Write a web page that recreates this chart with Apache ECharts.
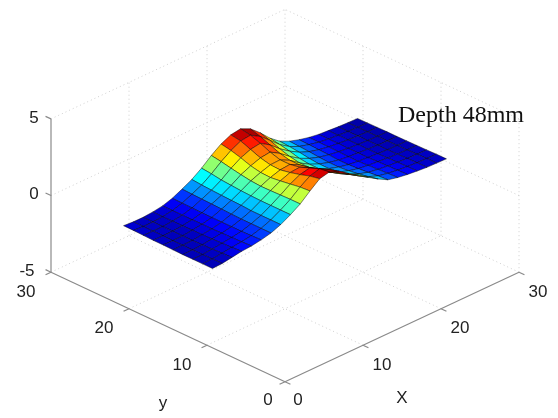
<!DOCTYPE html>
<html><head><meta charset="utf-8">
<script src="https://cdn.jsdelivr.net/npm/echarts@6/dist/echarts.min.js"></script>
<style>html,body{margin:0;background:#fff}#c{width:558px;height:418px}</style>
</head><body><div id="c"></div>
<script>
const xTicks=[0,10,20,30], yTicks=[0,10,20,30], zTicks=[-5,0,5];
const xGrid=[0,1.25,2.5,3.75,5,6.25,7.5,8.75,10,11.25,12.5,13.75,15,16.25,17.5,18.75,20,21.25,22.5,23.75,25,26.25,27.5,28.75,30];
const yGrid=[9.3,10.57,11.83,13.1,14.37,15.63,16.9,18.17,19.43,20.7];
const z0=[.17,.2,.3,.4,.45,.55,.7,.95,1.3,1.7,2.25,2.75,2.9,2.65,2.2,1.8,1.35,.95,.6,.45,.35,.28,.22,.2,.18];
const z1=[.17,.2,.27,.35,.42,.52,.7,.95,1.3,1.7,2.2,2.62,2.8,2.45,1.95,1.55,1.15,.8,.55,.42,.33,.27,.22,.2,.18];
const z2=[.17,.18,.24,.32,.4,.5,.7,.95,1.3,1.68,2.1,2.42,2.55,2.2,1.7,1.3,.95,.68,.48,.38,.3,.25,.2,.18,.16];
const z3=[.17,.18,.22,.3,.38,.5,.7,.95,1.3,1.66,2.0,2.25,2.3,1.98,1.5,1.1,.8,.58,.42,.34,.28,.22,.18,.16,.15];
const z4=[.18,.18,.2,.28,.36,.5,.72,1.0,1.32,1.65,1.92,2.12,2.18,1.85,1.38,1.0,.72,.52,.38,.3,.25,.2,.16,.15,.14];
const z5=[.2,.18,.2,.27,.36,.5,.75,1.02,1.35,1.7,1.95,2.15,2.18,1.85,1.38,1.0,.72,.52,.38,.3,.25,.2,.16,.14,.13];
const z6=[.2,.2,.2,.26,.35,.5,.78,1.05,1.4,1.8,2.08,2.3,2.38,2.0,1.5,1.08,.78,.56,.42,.32,.25,.2,.16,.14,.13];
const z7=[.22,.2,.2,.25,.35,.52,.8,1.08,1.45,1.92,2.3,2.55,2.65,2.25,1.7,1.25,.88,.62,.45,.34,.26,.2,.16,.13,.12];
const z8=[.24,.2,.2,.25,.35,.53,.82,1.12,1.55,2.05,2.48,2.8,2.88,2.5,1.95,1.38,.95,.66,.48,.34,.25,.2,.15,.12,.11];
const z9=[.25,.2,.2,.25,.35,.55,.85,1.18,1.62,2.15,2.6,2.9,3.0,2.7,2.15,1.5,1.0,.7,.5,.35,.25,.2,.15,.12,.1];
const zRows=[z0,z1,z2,z3,z4,z5,z6,z7,z8,z9];
const title='Depth 48mm', xName='X', yName='y';

const ZH=4.2, ZMAX=3.0;
const proj=(x,y,z)=>[x-y, x+y+(z+5)*ZH];
function jet(t){
  const c=v=>Math.round(255*Math.max(0,Math.min(1,v)));
  return `rgb(${c(1.5-Math.abs(4*t-3))},${c(1.5-Math.abs(4*t-2))},${c(1.5-Math.abs(4*t-1))})`;
}
// surface cells, painted far to near; facet colour from its first vertex
const cells=[];
for(let j=yGrid.length-2;j>=0;j--)for(let i=xGrid.length-2;i>=0;i--)cells.push([i,j]);
function renderCell(p,api){
  const i=api.value(0),j=api.value(1);
  const corners=[[i,j],[i+1,j],[i+1,j+1],[i,j+1]];
  const pts=corners.map(([a,b])=>api.coord(proj(xGrid[a],yGrid[b],zRows[b][a])));
  return {type:'polygon',shape:{points:pts},style:{fill:jet(zRows[j][i]/ZMAX),stroke:'rgba(0,0,0,0.65)',lineWidth:0.7}};
}
const lo=-5,hi=5,xe=30,ye=30;
const dotted=[],solid=[];
xTicks.slice(1).forEach(v=>{ dotted.push([v,0,lo,v,ye,lo]); dotted.push([v,ye,lo,v,ye,hi]); });
yTicks.slice(1).forEach(v=>{ dotted.push([0,v,lo,xe,v,lo]); });
yTicks.slice(0,3).forEach(v=>{ dotted.push([xe,v,lo,xe,v,hi]); });
zTicks.slice(1).forEach(v=>{ dotted.push([0,ye,v,xe,ye,v]); dotted.push([xe,0,v,xe,ye,v]); });
solid.push([0,ye,lo,0,ye,hi],[0,0,lo,xe,0,lo],[0,0,lo,0,ye,lo]);
const tl=0.7;
xTicks.forEach(v=>solid.push([v,0,lo,v,-tl,lo]));
yTicks.forEach(v=>solid.push([0,v,lo,-tl,v,lo]));
zTicks.forEach(v=>solid.push([0,ye,v,0,ye+tl,v]));
const segRender=(list,style)=>(p,api)=>{
  const s=list[api.value(0)];
  const a=api.coord(proj(s[0],s[1],s[2])),b=api.coord(proj(s[3],s[4],s[5]));
  return {type:'line',shape:{x1:a[0],y1:a[1],x2:b[0],y2:b[1]},style};
};
const labelFont='17px "Liberation Sans"';
const labels=[];
xTicks.forEach(v=>labels.push({t:String(v),p:[v,0,lo],dx:v?19:13,dy:v?20:18.5}));
yTicks.forEach(v=>labels.push({t:String(v),p:[0,v,lo],dx:v?-25:-17,dy:v?20:18.5}));
zTicks.forEach(v=>labels.push({t:String(v),p:[0,ye,v],dx:v<0?-24:-17,dy:-1}));
labels.push({t:xName,p:[20,0,lo],dx:-39,dy:90});
labels.push({t:yName,p:[0,10,lo],dx:-44,dy:58});
function renderLabel(p,api){
  const l=labels[api.value(0)],c=api.coord(proj(...l.p));
  return {type:'text',x:c[0]+l.dx,y:c[1]+l.dy,style:{text:l.t,font:labelFont,fill:'#222',align:'center',verticalAlign:'middle'}};
}
const idx=a=>a.map((_,i)=>[i]);
const chart=echarts.init(document.getElementById('c'),null,{renderer:'canvas'});
chart.setOption({
  animation:false,
  title:{text:title,left:398,top:104,padding:0,textStyle:{fontFamily:'Liberation Serif',fontSize:24,fontWeight:'normal',color:'#111'}},
  grid:{left:51,right:39,top:9.4,bottom:36.3},
  xAxis:{type:'value',min:-30,max:30,show:false},
  yAxis:{type:'value',min:0,max:102,show:false},
  series:[
    {type:'custom',coordinateSystem:'cartesian2d',clip:false,silent:true,z:1,data:idx(dotted),renderItem:segRender(dotted,{stroke:'#cfcfcf',lineWidth:1,lineDash:[1,3]})},
    {type:'custom',coordinateSystem:'cartesian2d',clip:false,silent:true,z:2,data:idx(solid),renderItem:segRender(solid,{stroke:'#8a8a8a',lineWidth:1.2})},
    {type:'custom',coordinateSystem:'cartesian2d',clip:false,silent:true,z:3,data:cells,renderItem:renderCell},
    {type:'custom',coordinateSystem:'cartesian2d',clip:false,silent:true,z:4,data:idx(labels),renderItem:renderLabel}
  ]
});
</script></body></html>
